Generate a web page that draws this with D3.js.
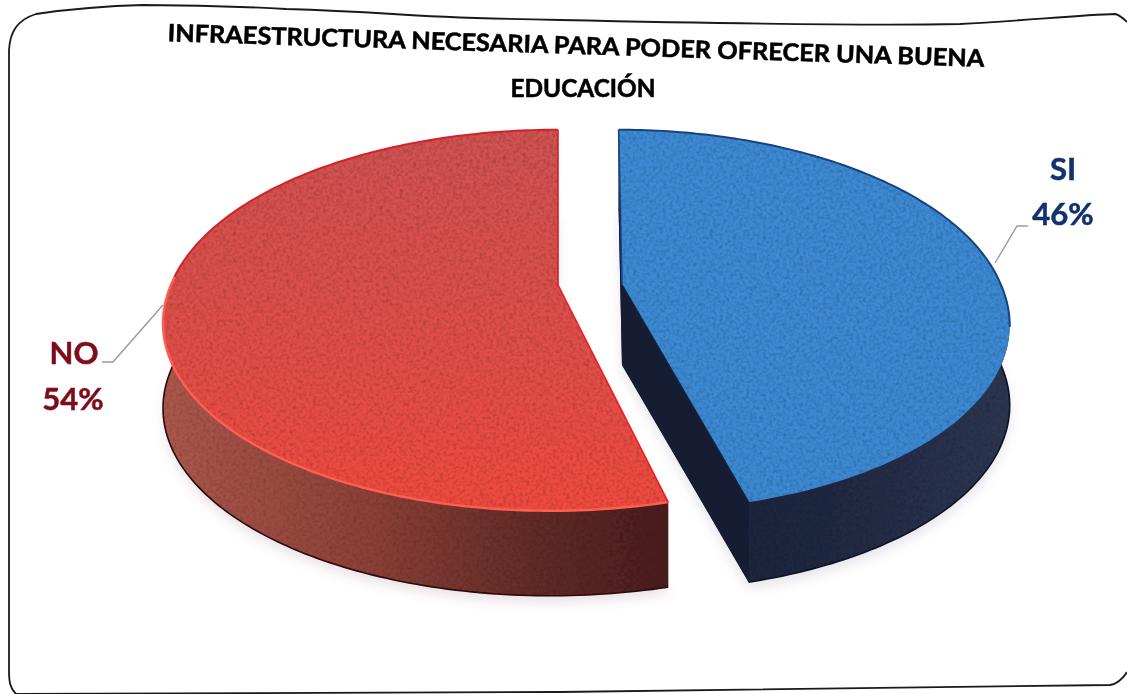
<!DOCTYPE html>
<html><head><meta charset="utf-8">
<script src="https://cdn.jsdelivr.net/npm/d3@7"></script>
<style>html,body{margin:0;padding:0;background:#fff}svg{display:block}</style>
</head><body><svg id="c" width="1127" height="694"></svg>
<script>
const categories = ["SI", "NO"];
const seriesValues = [46, 54];
const percentLabels = ["46%", "54%"];
const titleLines = ["INFRAESTRUCTURA NECESARIA PARA PODER OFRECER UNA BUENA", "EDUCACIÓN"];

const svg = d3.select("#c");
const defs = svg.append("defs");
function linear(id, x1, y1, x2, y2, stops){
  const g = defs.append("linearGradient").attr("id", id).attr("gradientUnits", "userSpaceOnUse")
    .attr("x1", x1).attr("y1", y1).attr("x2", x2).attr("y2", y2);
  stops.forEach(s => g.append("stop").attr("offset", s[0]).attr("stop-color", s[1]));
}
linear("redTop", 0, 130, 0, 510, [[0, "#d05252"], [0.45, "#dc4f4a"], [1, "#f04a3e"]]);
linear("redSide", 165, 0, 670, 0, [[0, "#ab574c"], [0.4, "#8c4037"], [0.75, "#5f2a26"], [1, "#4a1c1e"]]);
linear("blueTop", 620, 130, 900, 500, [[0, "#3d8ad4"], [1, "#3b88d2"]]);
linear("blueSide", 620, 0, 1005, 0, [[0, "#1a2238"], [0.5, "#1f2740"], [1, "#2d3550"]]);
defs.append("filter").attr("id", "soft").attr("x", "-10%").attr("y", "-10%").attr("width", "120%").attr("height", "120%")
  .append("feGaussianBlur").attr("stdDeviation", 6);
defs.append("filter").attr("id", "edge").attr("x", "-2%").attr("y", "-2%").attr("width", "104%").attr("height", "104%")
  .append("feGaussianBlur").attr("stdDeviation", 0.7);
defs.append("filter").attr("id", "textSoft").attr("x", "-5%").attr("y", "-5%").attr("width", "110%").attr("height", "110%")
  .append("feGaussianBlur").attr("stdDeviation", 0.45);
const grain = defs.append("filter").attr("id", "grain").attr("x", 0).attr("y", 0).attr("width", "100%").attr("height", "100%");
grain.append("feTurbulence").attr("type", "fractalNoise").attr("baseFrequency", 0.3).attr("numOctaves", 2).attr("seed", 4);
grain.append("feColorMatrix").attr("values", "0 0 0 0 0  0 0 0 0 0  0 0 0 0 0  0.35 0.35 0 0 -0.3");
grain.append("feComposite").attr("in2", "SourceGraphic").attr("operator", "in");

// Perspective-tilted disc: each slice has its own exploded apex, width, shear and thickness.
const P = 0.185, B = 184, STEP = Math.PI / 180;
const apexes = [[622, 285], [558, 285]];
const widths = [379, 387];
const shearFront = [10, -6];
const shearBack = [4, 0];
const depths = [80, 85];
function rim(theta, i, dz = 0) {
  const u = Math.sin(theta), v = -Math.cos(theta), w = 1 / (1 - P * v);
  const s = v > 0 ? shearFront[i] : shearBack[i];
  return [apexes[i][0] + widths[i] * u * w + s * v * w, apexes[i][1] + B * v * w + dz];
}
const arcs = d3.pie().sort(null).value(d => d)(seriesValues);
const lineGen = d3.line();
function samples(a0, a1, i, dz = 0) {
  const pts = [];
  for (let t = a0; t < a1; t += STEP) pts.push(rim(t, i, dz));
  pts.push(rim(a1, i, dz));
  return pts;
}
const down = (i) => [apexes[i][0], apexes[i][1] + depths[i]];
const topPath = (a, i) => lineGen([apexes[i], ...samples(a.startAngle, a.endAngle, i)]) + "Z";
const sidePath = (a, i) => lineGen([...samples(a.startAngle, a.endAngle, i), ...samples(a.startAngle, a.endAngle, i, depths[i]).reverse()]) + "Z";
const facePath = (theta, i) => lineGen([apexes[i], rim(theta, i), rim(theta, i, depths[i]), down(i)]) + "Z";
const bottomPath = (a, i) => lineGen([down(i), ...samples(a.startAngle, a.endAngle, i, depths[i])]) + "Z";

// shadow
const shadow = svg.append("g").attr("filter", "url(#soft)").attr("opacity", 0.2).attr("transform", "translate(0,7)");
arcs.forEach((a, i) => shadow.append("path").attr("d", bottomPath(a, i)).attr("fill", i ? "#a07080" : "#8080a0"));

// frame
svg.append("path").attr("fill", "none").attr("stroke", "#1a1a1a").attr("stroke-width", 1.8)
  .attr("d", "M16,694 C10,688 9,682 9,670 L9,50 C10,32 17,20 36,14 C70,9 100,6 143,5 C200,5 250,7 286,9 C320,10 360,12 393,14 C450,18 500,19 560,20 C700,23 850,26 960,24 C1020,21 1080,15 1115,14 C1120,15 1124,19 1127,22 M1127,672 C1122,680 1116,684 1110,685 C900,689 700,691 560,692 C350,694 150,694 16,694");

const chart = svg.append("g").attr("filter", "url(#edge)");
const colours = [
  {top: "url(#blueTop)", side: "url(#blueSide)", face: "#161d33", back: "#17437f", front: null, cut: "#17223e", base: "#0e1322"},
  {top: "url(#redTop)", side: "url(#redSide)", face: "#4a1c1e", back: "#d3222a", front: "#ff5f50", cut: "#ee1c26", base: "#2a0a0a"}
];
[1, 0].forEach(i => {
  const a = arcs[i], c = colours[i];
  const g = chart.append("g").attr("class", "slice-" + categories[i]);
  const mid = a.startAngle + (a.endAngle - a.startAngle) * (i ? 0.55 : 0.62);
  g.append("path").attr("d", bottomPath(a, i)).attr("fill", c.face);
  g.append("path").attr("d", facePath(a.startAngle, i)).attr("fill", c.face);
  g.append("path").attr("d", facePath(a.endAngle, i)).attr("fill", c.face);
  g.append("path").attr("d", sidePath(a, i)).attr("fill", c.side);
  g.append("path").attr("d", sidePath(a, i)).attr("fill", "#000").attr("filter", "url(#grain)").attr("opacity", 0.6);
  g.append("path").attr("d", lineGen(samples(a.startAngle, a.endAngle, i, depths[i])))
    .attr("fill", "none").attr("stroke", c.base).attr("stroke-width", 1.6);
  g.append("path").attr("d", topPath(a, i)).attr("fill", c.top);
  g.append("path").attr("d", topPath(a, i)).attr("fill", "#000").attr("filter", "url(#grain)").attr("opacity", 0.8);
  // rim lines: back of the slice dark, front of the slice highlighted
  const backPts = i ? samples(mid, a.endAngle, i) : samples(a.startAngle, mid, i);
  g.append("path").attr("d", lineGen(backPts)).attr("fill", "none").attr("stroke", c.back).attr("stroke-width", 2);
  if (c.front) g.append("path").attr("d", lineGen(samples(a.startAngle, mid, i)))
    .attr("fill", "none").attr("stroke", c.front).attr("stroke-width", 2.4);
  g.append("path").attr("d", lineGen(i ? [apexes[i], rim(a.startAngle, i)] : [apexes[i], rim(a.endAngle, i)]))
    .attr("fill", "none").attr("stroke", c.cut).attr("stroke-width", 1.6);
  g.append("path").attr("d", lineGen(i ? [apexes[i], rim(a.endAngle, i)] : [apexes[i], rim(a.startAngle, i)]))
    .attr("fill", "none").attr("stroke", c.back).attr("stroke-width", 1.6);
});

// leader lines
const leaders = [[[995, 263], [1017, 226], [1028, 226]], [[163, 305], [113, 362], [102, 362]]];
leaders.forEach(l => svg.append("path").attr("d", lineGen(l)).attr("fill", "none")
  .attr("stroke", "#9a9a9a").attr("stroke-width", 1.4));

// labels
const labelFont = "Lato, 'Open Sans', sans-serif";
const labelPos = [[1063, 180, 1063, 225], [74, 364, 73, 410]];
const labelCol = ["#12306e", "#7d0f1a"];
const labels = svg.append("g").attr("filter", "url(#textSoft)");
categories.forEach((c, i) => {
  const p = labelPos[i];
  [[c, p[0], p[1]], [percentLabels[i], p[2], p[3]]].forEach(t =>
    labels.append("text").text(t[0]).attr("x", t[1]).attr("y", t[2]).attr("text-anchor", "middle")
      .attr("font-family", labelFont).attr("font-weight", 700).attr("font-size", 31)
      .attr("fill", labelCol[i]).attr("stroke", labelCol[i]).attr("stroke-width", 0.5));
});

// title
const title = svg.append("g").attr("font-family", labelFont).attr("font-weight", 700)
  .attr("fill", "#000").attr("stroke", "#000").attr("stroke-width", 0.55).attr("filter", "url(#textSoft)");
title.append("text").text(titleLines[0]).attr("x", 576).attr("y", 54).attr("text-anchor", "middle")
  .attr("transform", "rotate(1.8 576 46)")
  .attr("font-size", 24).attr("textLength", 817).attr("lengthAdjust", "spacingAndGlyphs");
title.append("text").text(titleLines[1]).attr("x", 583).attr("y", 97).attr("text-anchor", "middle")
  .attr("font-size", 24).attr("textLength", 145).attr("lengthAdjust", "spacingAndGlyphs");
</script></body></html>
